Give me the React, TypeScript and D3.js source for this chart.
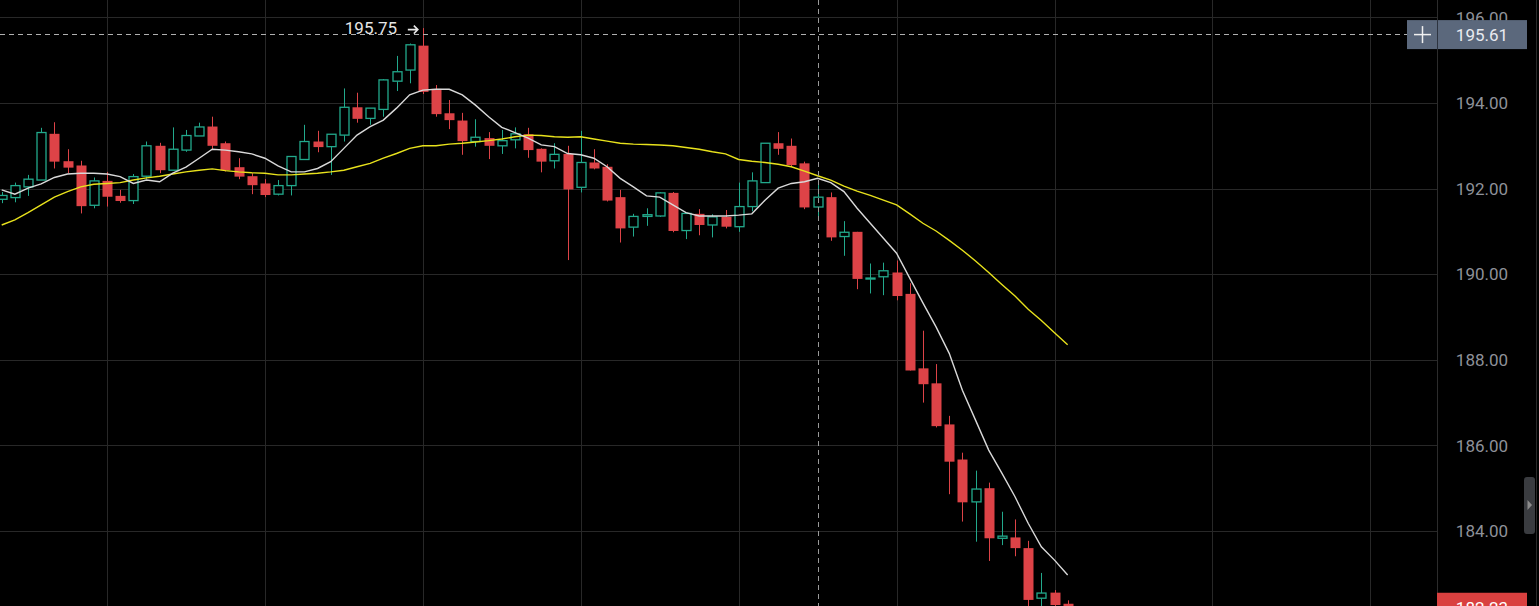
import React from "react";
import * as d3 from "d3";

// ---- data ----
const opens = [
  191.75, 191.79, 192.04, 192.2, 193.28, 192.64, 192.54, 191.61, 192.18, 191.83,
  191.72, 192.29, 193.0, 192.43, 192.9, 193.23, 193.45, 193.06, 192.5, 192.29,
  192.12, 191.87, 192.07, 192.68, 193.1, 192.98, 193.25, 193.9, 193.64, 193.85,
  194.51, 194.77, 195.34, 194.33, 193.76, 193.59, 193.1, 193.18, 193.0, 193.14,
  193.27, 192.93, 192.65, 192.81, 192.03, 192.61, 192.51, 191.8, 191.1, 191.35,
  191.36, 191.9, 191.02, 191.41, 191.15, 191.34, 191.11, 191.58, 192.14, 193.06,
  193.0, 192.59, 191.57, 191.8, 190.88, 190.99, 189.89, 189.94, 190.04, 189.54,
  187.8, 187.45, 186.49, 185.67, 184.68, 185.0, 183.83, 183.85, 183.6, 182.43,
  182.56, 182.3,
];
const highs = [
  191.92, 192.14, 192.32, 193.42, 193.55, 192.92, 192.65, 192.26, 192.39, 191.97,
  192.34, 193.1, 193.07, 193.43, 193.37, 193.54, 193.68, 193.1, 192.71, 192.36,
  192.22, 192.2, 192.75, 193.49, 193.35, 193.27, 194.34, 194.24, 193.88, 194.56,
  195.1, 195.39, 195.75, 194.42, 194.07, 193.77, 193.62, 193.32, 193.37, 193.43,
  193.42, 192.94, 193.06, 193.0, 193.35, 192.92, 192.57, 191.97, 191.41, 191.54,
  191.92, 191.92, 191.44, 191.52, 191.4, 191.5, 192.14, 192.38, 193.06, 193.32,
  193.17, 192.63, 192.14, 191.91, 191.24, 190.99, 190.25, 190.27, 190.32, 189.79,
  188.68, 187.9, 186.69, 185.83, 185.41, 185.13, 184.45, 184.27, 183.77, 183.02,
  182.62, 182.38,
];
const lows = [
  191.66, 191.68, 191.83, 192.2, 192.47, 192.36, 191.42, 191.54, 191.58, 191.67,
  191.64, 192.22, 192.36, 192.43, 192.86, 193.23, 192.9, 192.4, 192.22, 191.87,
  191.8, 191.84, 191.84, 192.68, 192.85, 192.32, 193.1, 193.54, 193.49, 193.68,
  194.28, 194.46, 194.21, 193.68, 193.39, 192.79, 192.98, 192.69, 192.81, 192.94,
  192.72, 192.38, 192.47, 190.33, 191.91, 192.45, 191.7, 190.74, 190.88, 191.13,
  191.34, 190.98, 190.82, 190.91, 190.86, 191.07, 190.99, 191.47, 192.14, 192.79,
  192.51, 191.52, 191.31, 190.78, 190.43, 189.65, 189.55, 189.51, 189.39, 187.75,
  187.0, 186.42, 184.86, 184.22, 183.75, 183.3, 183.67, 183.41, 182.2, 182.15,
  182.1, 182.1,
];
const closes = [
  191.84, 192.07, 192.22, 193.31, 192.63, 192.49, 191.59, 192.18, 191.81, 191.71,
  192.28, 193.0, 192.43, 192.92, 193.24, 193.44, 193.0, 192.43, 192.28, 192.08,
  191.85, 192.07, 192.75, 193.1, 192.97, 193.27, 193.9, 193.63, 193.88, 194.54,
  194.73, 195.36, 194.26, 193.74, 193.6, 193.11, 193.2, 193.0, 193.12, 193.28,
  192.9, 192.63, 192.8, 191.98, 192.61, 192.47, 191.72, 191.07, 191.35, 191.39,
  191.9, 191.01, 191.42, 191.15, 191.34, 191.11, 191.58, 192.18, 193.06, 192.93,
  192.55, 191.56, 191.8, 190.86, 190.98, 189.89, 189.91, 190.08, 189.49, 187.75,
  187.43, 186.45, 185.62, 184.67, 184.98, 183.83, 183.88, 183.6, 182.39, 182.55,
  182.27, 182.23,
];
const fastMA = [
  191.97, 191.87, 192.01, 192.11, 192.26, 192.34, 192.36, 192.36, 192.34, 192.28,
  192.12, 192.2, 192.16, 192.36, 192.5, 192.71, 192.92, 192.9, 192.86, 192.81,
  192.71, 192.53, 192.39, 192.39, 192.47, 192.63, 192.94, 193.25, 193.45, 193.6,
  193.88, 194.19, 194.3, 194.32, 194.32, 194.19, 193.95, 193.68, 193.43, 193.31,
  193.18, 193.02, 192.98, 192.82, 192.79, 192.71, 192.51, 192.24, 192.04, 191.83,
  191.8, 191.62, 191.44, 191.36, 191.36, 191.36, 191.38, 191.41, 191.73, 192.01,
  192.12, 192.16, 192.24, 192.14, 191.93, 191.54, 191.19, 190.84, 190.49, 189.91,
  189.33, 188.77, 188.15, 187.29, 186.59, 185.89, 185.35, 184.8, 184.18, 183.63,
  183.32, 182.97,
];
const slowMA = [
  191.15, 191.27, 191.44, 191.62, 191.8, 191.93, 192.04, 192.1, 192.12, 192.14,
  192.2, 192.25, 192.29, 192.34, 192.39, 192.43, 192.46, 192.42, 192.39, 192.37,
  192.36, 192.32, 192.32, 192.34, 192.36, 192.39, 192.43, 192.51, 192.59, 192.71,
  192.82, 192.94, 193.0, 193.0, 193.04, 193.06, 193.09, 193.12, 193.16, 193.21,
  193.25, 193.24, 193.21, 193.2, 193.21, 193.16, 193.11, 193.06, 193.04, 193.03,
  193.02, 193.0, 192.96, 192.92, 192.86, 192.81, 192.68, 192.64, 192.61, 192.57,
  192.51, 192.41, 192.3, 192.2, 192.06, 191.94, 191.84, 191.73, 191.62, 191.41,
  191.19, 191.01, 190.79, 190.56, 190.31, 190.04, 189.76, 189.49, 189.18, 188.92,
  188.63, 188.35,
];
const priceTicks = [184, 186, 188, 190, 192, 194, 196];
const timeGridIdx = [8, 20, 32, 44, 56, 68, 80, 92, 104];
const highLabel = "195.75";
const highIdx = 32;
const crossIdx = 62;
const crossPrice = 195.61;
const lastPrice = 182.23;

const W = 1539;
const H = 606;
const PLOT_R = 1437;
const GREEN = "#22a98c";
const RED = "#dd4347";
const FONT = "Roboto, 'Noto Sans', sans-serif";

export default function App() {
  const x = d3.scaleLinear().domain([0, 81]).range([1.7, 1.7 + 81 * 13.16]);
  const y = d3.scaleLinear().domain([184, 196]).range([531, 17.4]);
  const lineGen = d3
    .line<number>()
    .x((_, i) => x(i))
    .y((v) => y(v));
  const bw = 9;
  const px = (v: number) => Math.round(v) + 0.5;
  const hy = y(+highLabel);
  const ax = x(highIdx) - 5;

  return (
    <svg
      width={W}
      height={H}
      style={{ position: "fixed", left: 0, top: 0, background: "#000", display: "block" }}
    >
      <rect x={0} y={0} width={W} height={H} fill="#000" />
      {/* grid */}
      {priceTicks.map((p) => (
        <line key={"h" + p} x1={0} x2={PLOT_R} y1={px(y(p))} y2={px(y(p))} stroke="#282828" strokeWidth={1} />
      ))}
      {timeGridIdx.map((i) => (
        <line key={"v" + i} x1={px(x(i))} x2={px(x(i))} y1={0} y2={H} stroke="#282828" strokeWidth={1} />
      ))}
      <line x1={PLOT_R + 0.5} x2={PLOT_R + 0.5} y1={0} y2={H} stroke="#2c2c2c" />
      <line x1={1536.5} x2={1536.5} y1={0} y2={H} stroke="#2a2a2a" />

      {/* candles */}
      {opens.map((o, i) => {
        const c = closes[i];
        const up = c >= o;
        const cx = px(x(i));
        const top = y(Math.max(o, c));
        const bot = y(Math.min(o, c));
        const hgt = Math.max(1, bot - top);
        if (up) {
          return (
            <g key={i}>
              <line x1={cx} x2={cx} y1={y(highs[i])} y2={top} stroke={GREEN} strokeWidth={1} />
              <line x1={cx} x2={cx} y1={top + hgt} y2={y(lows[i])} stroke={GREEN} strokeWidth={1} />
              <rect x={cx - bw / 2} y={top} width={bw} height={hgt} fill="#000" stroke={GREEN} strokeWidth={1.3} />
            </g>
          );
        }
        return (
          <g key={i}>
            <line x1={cx} x2={cx} y1={y(highs[i])} y2={y(lows[i])} stroke={RED} strokeWidth={1} />
            <rect x={cx - bw / 2 - 0.5} y={top} width={bw + 1} height={hgt} fill={RED} />
          </g>
        );
      })}

      {/* moving averages */}
      <path d={lineGen(slowMA) || ""} fill="none" stroke="#e8e21c" strokeWidth={1.4} />
      <path d={lineGen(fastMA) || ""} fill="none" stroke="#d9d9d9" strokeWidth={1.4} />

      {/* crosshair */}
      <line x1={px(x(crossIdx))} x2={px(x(crossIdx))} y1={0} y2={H} stroke="#9a9a9a" strokeWidth={1} strokeDasharray="5,4" />
      <line x1={0} x2={1407} y1={px(y(crossPrice))} y2={px(y(crossPrice))} stroke="#b0b0b0" strokeWidth={1} strokeDasharray="5,4" />

      {/* high label */}
      <text x={x(highIdx) - 78} y={hy + 6} fill="#e6e6e6" fontFamily={FONT} fontSize={17}>
        {highLabel}
      </text>
      <path
        d={`M${ax - 10},${hy + 1.5} L${ax},${hy + 1.5} M${ax - 4},${hy - 2.5} L${ax},${hy + 1.5} L${ax - 4},${hy + 5.5}`}
        fill="none"
        stroke="#e6e6e6"
        strokeWidth={1.6}
      />

      {/* right axis labels */}
      {priceTicks.map((p) => (
        <text key={"t" + p} x={1482} y={y(p)} dy="0.36em" textAnchor="middle" fill="#8e9199" fontFamily={FONT} fontSize={17}>
          {p.toFixed(2)}
        </text>
      ))}

      {/* crosshair price label */}
      <rect x={1407} y={y(crossPrice) - 14} width={120} height={29} fill="#5b687c" />
      <line x1={1437.5} x2={1437.5} y1={y(crossPrice) - 14} y2={y(crossPrice) + 15} stroke="#2d3440" />
      <line x1={1414} x2={1431} y1={y(crossPrice) + 0.5} y2={y(crossPrice) + 0.5} stroke="#f0f0f0" strokeWidth={1.5} />
      <line x1={1422.5} x2={1422.5} y1={y(crossPrice) - 8} y2={y(crossPrice) + 9} stroke="#f0f0f0" strokeWidth={1.5} />
      <text x={1482} y={y(crossPrice) + 1} dy="0.36em" textAnchor="middle" fill="#e8ebf0" fontFamily={FONT} fontSize={17}>
        {crossPrice.toFixed(2)}
      </text>

      {/* last price label */}
      <rect x={1437} y={y(lastPrice) - 14} width={90} height={29} fill="#d9403f" />
      <text x={1482} y={y(lastPrice) + 1} dy="0.36em" textAnchor="middle" fill="#ffffff" fontFamily={FONT} fontSize={17}>
        {lastPrice.toFixed(2)}
      </text>

      {/* scroll handle */}
      <rect x={1524} y={477} width={11} height={57} rx={3} fill="#3a3c40" />
      <path d="M1527.5,500 L1532,505 L1527.5,510 Z" fill="#8c8c8c" />
    </svg>
  );
}
